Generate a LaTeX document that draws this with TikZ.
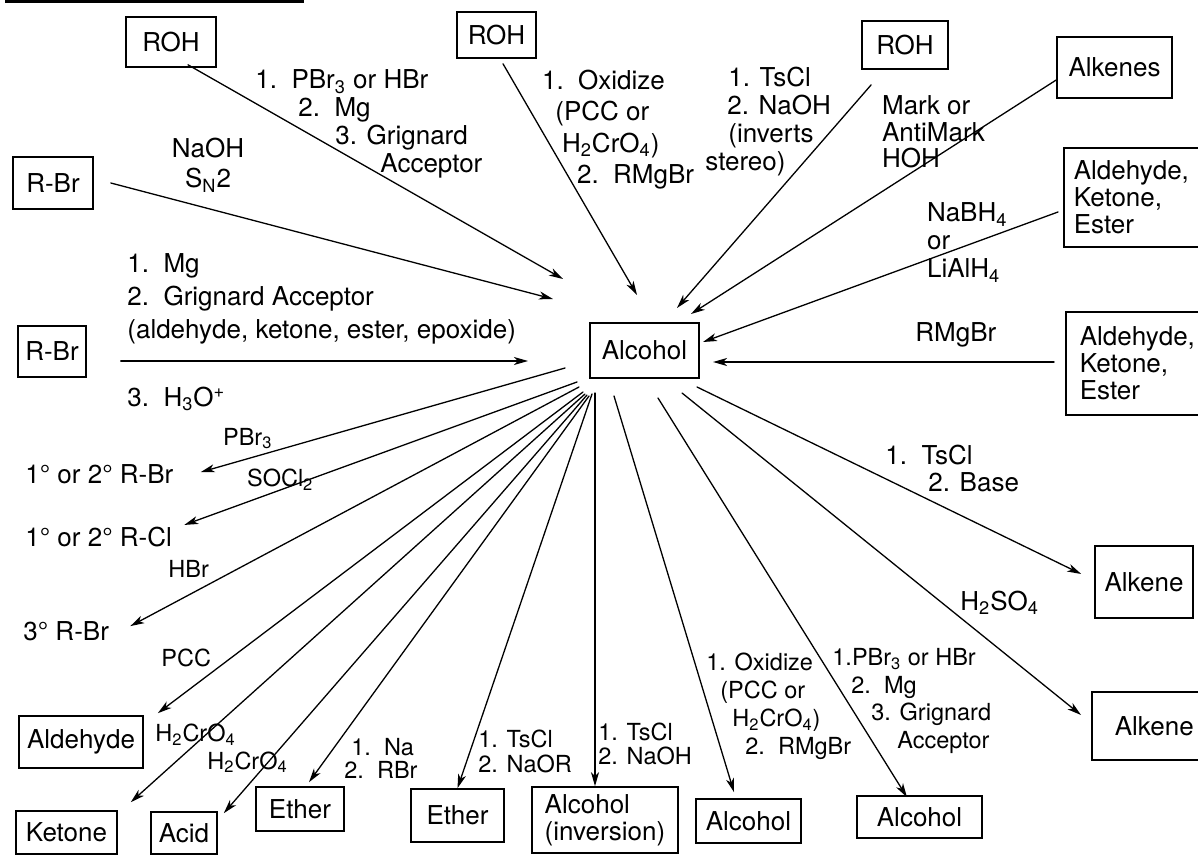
\documentclass[tikz,border=0pt]{standalone}
\usepackage{fontspec}
\setmainfont{TeX Gyre Heros}
\usetikzlibrary{arrows.meta}

\begin{document}
\begin{tikzpicture}[x=0.5pt, y=-0.5pt, line cap=round,
  box/.style={draw, line width=0.8pt, inner sep=0pt, align=left, font=\fontsize{13}{13.5}\selectfont},
  lbl/.style={inner sep=0pt, anchor=north west, align=left, font=\fontsize{13}{14}\selectfont},
  klein/.style={lbl, font=\fontsize{11.75}{13.5}\selectfont},
  arr/.style={-{Stealth[length=7pt, width=4pt, inset=2pt]}, line width=0.65pt}]
  \useasboundingbox (0,0) rectangle (1198,855);

  % balk bovenaan
  \fill (5,0) rectangle (304,3);

  % uitgangsstoffen
  \node[box, minimum width=45pt, minimum height=25pt] (roha) at (171,42) {ROH};
  \node[box, minimum width=39.5pt, minimum height=23pt] (rohb) at (496.5,35) {ROH};
  \node[box, minimum width=43pt, minimum height=24pt] (rohc) at (905,45) {ROH};
  \node[box, minimum width=57.5pt, minimum height=30.5pt] (alkenes) at (1114.5,67.5) {Alkenes};
  \node[box, anchor=west, inner xsep=5pt, text width=66pt, minimum height=49.5pt] (carbonyla) at (1063,197.5) {Aldehyde,\\Ketone,\\Ester};
  \node[box, anchor=west, inner xsep=7pt, text width=60pt, minimum height=51.5pt] (carbonylb) at (1065,363.5) {Aldehyde,\\Ketone,\\Ester};
  \node[box, minimum width=40pt, minimum height=26pt] (rbra) at (53,183) {R-Br};
  \node[box, minimum width=34pt, minimum height=25.5pt] (rbrb) at (52,351.5) {R-Br};

  % alcohol in het midden
  \node[box, minimum width=54.5pt, minimum height=27.5pt] (alcohol) at (644.5,350.5) {Alcohol};

  % producten
  \node[lbl, anchor=base west] (prbr) at (25,483) {1° or 2° R-Br};
  \node[lbl, anchor=base west] (prcl) at (25,546) {1° or 2° R-Cl};
  \node[lbl, anchor=base west] (ptbr) at (23,640) {3° R-Br};
  \node[box, minimum width=62pt, minimum height=26pt] (aldehyde) at (81,742) {Aldehyde};
  \node[box, minimum width=50.5pt, minimum height=21.5pt] (ketone) at (66.5,832.5) {Ketone};
  \node[box, minimum width=33pt, minimum height=21pt] (acid) at (184,833) {Acid};
  \node[box, minimum width=44pt, minimum height=22pt] (ethera) at (300,809) {Ether};
  \node[box, minimum width=46.5pt, minimum height=26.5pt] (etherb) at (457.5,815.5) {Ether};
  \node[box, minimum width=73pt, minimum height=33pt] (alcinv) at (605,820) {Alcohol\\(inversion)};
  \node[box, minimum width=52.5pt, minimum height=22pt] (alcb1) at (748.5,821) {Alcohol};
  \node[box, minimum width=62.5pt, minimum height=21pt] (alcb2) at (919.5,817) {Alcohol};
  \node[box, minimum width=49pt, minimum height=36pt] (alkenea) at (1144,582) {Alkene};
  \node[box, anchor=west, inner xsep=11.5pt, text width=40pt, minimum height=34pt] (alkeneb) at (1091,726) {Alkene};

  % pijlen naar alcohol
  \coordinate (t1) at (563,279);
  \coordinate (t2) at (553,299);
  \coordinate (t3) at (528,361);
  \coordinate (t4) at (637,295);
  \coordinate (t5) at (677,308);
  \coordinate (t6) at (691,314);
  \coordinate (t7) at (703,342);
  \coordinate (t8) at (713,362);
  \draw[arr] ([shift={(17,-3)}]roha.south) -- (t1);
  \draw[arr] ([shift={(17,0)}]rbra.east) -- (t2);
  \draw[arr] ([shift={(34,9.5)}]rbrb.east) -- (t3);
  \draw[arr] ([shift={(6.5,5)}]rohb.south) -- (t4);
  \draw[arr] ([shift={(10,15)}]rohc.south west) -- (t5);
  \draw[arr] ([shift={(0,12.5)}]alkenes.west) -- (t6);
  \draw[arr] ([shift={(-5,14.5)}]carbonyla.west) -- (t7);
  \draw[arr] ([shift={(-11,-1.5)}]carbonylb.west) -- (t8);

  % pijlen vanuit alcohol
  \coordinate (h1) at (565,368);
  \coordinate (h2) at (577,382);
  \coordinate (h3) at (579,387);
  \coordinate (h4) at (583,392);
  \coordinate (h5) at (585,394);
  \coordinate (h6) at (587,395);
  \coordinate (h7) at (589,396);
  \coordinate (h8) at (592,394);
  \coordinate (h9) at (595,393);
  \coordinate (h10) at (614,396);
  \coordinate (h11) at (658,398);
  \coordinate (h12) at (682,393);
  \coordinate (h13) at (697,387);
  \draw[arr] (h1) -- ([shift={(27,-1.6)}]prbr.east);
  \draw[arr] (h2) -- ([shift={(12,-11.6)}]prcl.east);
  \draw[arr] (h3) -- ([shift={(21,-4.6)}]ptbr.east);
  \draw[arr] (h4) -- ([shift={(14,-2)}]aldehyde.north east);
  \draw[arr] (h5) -- ([shift={(13,-8)}]ketone.north east);
  \draw[arr] (h6) -- ([shift={(6,2)}]acid.north east);
  \draw[arr] (h7) -- ([shift={(9,-4)}]ethera.north);
  \draw[arr] (h8) -- (etherb.north);
  \draw[arr] (h9) -- ([shift={(-10,0)}]alcinv.north);
  \draw[arr] (h10) -- ([shift={(-14.5,-6)}]alcb1.north);
  \draw[arr] (h11) -- ([shift={(-12.5,2)}]alcb2.north);
  \draw[arr] (h12) -- ([shift={(-10,-11)}]alkeneb.west);
  \draw[arr] (h13) -- ([shift={(-13,-8)}]alkenea.west);

  % reagentia
  \node[lbl] (rg1) at (255,69.3) {1.\ \ PBr\textsubscript{3} or HBr\\\hspace*{21.5pt}2.\ \ Mg\\\hspace*{40pt}3. Grignard\\\hspace*{62.5pt}Acceptor};
  \node[lbl, anchor=north, align=center, font=\fontsize{13}{15}\selectfont] (rg2) at (208,137.3) {NaOH\\S\textsubscript{N}2};
  \node[lbl, font=\fontsize{13}{15.75}\selectfont] (rg3) at (541.7,69.3) {1.\ \ Oxidize\\\hspace*{6.65pt}(PCC or\\\hspace*{10pt}H\textsubscript{2}CrO\textsubscript{4})\\\hspace*{17.5pt}2.\ \ RMgBr};
  \node[lbl] (rg4) at (705,66.3) {\hspace*{11.5pt}1. TsCl\\\hspace*{11pt}2. NaOH\\\hspace*{11.5pt}(inverts\\stereo)};
  \node[lbl, font=\fontsize{13}{13.25}\selectfont] (rg5) at (881.7,95.3) {Mark or\\AntiMark\\HOH};
  \node[lbl] (rg6) at (926.7,202.3) {NaBH\textsubscript{4}\\or\\LiAlH\textsubscript{4}};
  \node[lbl, anchor=base west] (rg7) at (915,342) {RMgBr};
  \node[lbl, font=\fontsize{13}{16.5}\selectfont] (rg8) at (127,253.3) {1.\ \ Mg\\2.\ \ Grignard Acceptor\\(aldehyde, ketone, ester, epoxide)};
  \node[lbl, anchor=base west] (rg9) at (127,406) {3.\ \ H\textsubscript{3}O\textsuperscript{+}};
  \node[klein, anchor=base west] (rg10) at (222.7,445) {PBr\textsubscript{3}};
  \node[klein, anchor=base west] (rg11) at (246.7,486.7) {SOCl\textsubscript{2}};
  \node[klein, anchor=base west] (rg12) at (168,577) {HBr};
  \node[klein, anchor=base west] (rg13) at (161,666) {PCC};
  \node[klein, anchor=base west] (rg14) at (155,741.7) {H\textsubscript{2}CrO\textsubscript{4}};
  \node[klein, anchor=base west] (rg15) at (207,769.3) {H\textsubscript{2}CrO\textsubscript{4}};
  \node[klein, font=\fontsize{11.75}{11.5}\selectfont] (rg16) at (344,738) {\hspace*{3.5pt}1.\ \ Na\\2.\ \ RBr};
  \node[klein, font=\fontsize{11.75}{12.5}\selectfont] (rg17) at (478,730) {1. TsCl\\2. NaOR};
  \node[klein, font=\fontsize{11.75}{12}\selectfont] (rg18) at (598,723) {1. TsCl\\2. NaOH};
  \node[klein, font=\fontsize{11.75}{14}\selectfont] (rg19) at (706,653) {1. Oxidize\\\hspace*{7pt}(PCC or\\\hspace*{13pt}H\textsubscript{2}CrO\textsubscript{4})\\\hspace*{19.5pt}2.\ \ RMgBr};
  \node[klein, font=\fontsize{11.75}{13.85}\selectfont] (rg20) at (832,648) {1.PBr\textsubscript{3} or HBr\\\hspace*{9.5pt}2.\ \ Mg\\\hspace*{19.5pt}3. Grignard\\\hspace*{32.5pt}Acceptor};
  \node[lbl, anchor=base west] (rg21) at (960,610) {H\textsubscript{2}SO\textsubscript{4}};
  \node[lbl, font=\fontsize{13}{13.5}\selectfont] (rg22) at (885,444.3) {1.\ \ TsCl\\\hspace*{21.5pt}2. Base};
\end{tikzpicture}
\end{document}
